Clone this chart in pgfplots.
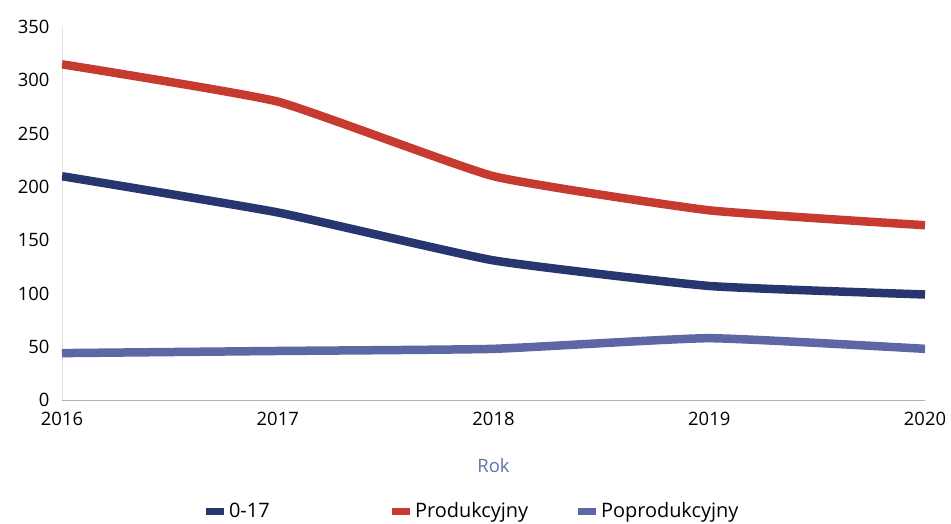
\documentclass[border=0pt]{standalone}
\usepackage{pgfplots}
\pgfplotsset{compat=1.18}
\usepackage{fontspec}
\setmainfont{Open Sans}
\definecolor{cnavy}{HTML}{27366F}
\definecolor{cred}{HTML}{C63A2F}
\definecolor{clav}{HTML}{5C67A3}
\definecolor{crok}{HTML}{6373A6}
\begin{document}
\begin{tikzpicture}
\path (-62bp,-124bp) rectangle (889bp,400bp);
\begin{axis}[
  scale only axis,
  width=863bp, height=373bp,
  at={(0,0)}, anchor=south west,
  xmin=2016, xmax=2020, ymin=0, ymax=350,
  xtick={2016,2017,2018,2019,2020},
  ytick={0,50,...,350},
  xticklabel style={/pgf/number format/1000 sep={}, yshift=-9bp},
  yticklabel style={xshift=-9bp},
  /pgf/number format/assume math mode=true,
  tick style={draw=none},
  axis x line*=bottom, axis y line*=left,
  x axis line style={draw=gray!60, line width=1pt, -},
  y axis line style={draw=gray!25, line width=0.8pt, -},
  font=\fontsize{18.5}{20}\selectfont,
  xlabel={Rok},
  xlabel style={at={(axis description cs:0.5,-0.177)}, anchor=center, text=crok},
  legend columns=3,
  legend style={at={(axis description cs:0.4765,-0.2976)}, anchor=center, draw=none, inner sep=0pt,
    font=\fontsize{20}{22}\selectfont,
    /tikz/every odd column/.append style={column sep=3bp}},
  legend image code/.code={\path[fill, draw=none, line width=0pt] (0bp,-3.5bp) rectangle (18bp,3.5bp);},
  every axis plot/.append style={line width=8.5bp, line join=round, smooth, tension=0.25},
]
\addplot[color=cnavy] coordinates {(2016,210) (2017,176) (2018,131) (2019,107) (2020,99)};
\addplot[color=cred] coordinates {(2016,315) (2017,280) (2018,210) (2019,178) (2020,164)};
\addplot[color=clav] coordinates {(2016,44) (2017,46) (2018,48) (2019,58) (2020,48)};
\legend{\makebox[161bp][l]{0-17},\makebox[161bp][l]{Produkcyjny},Poprodukcyjny}
\end{axis}
\end{tikzpicture}
\end{document}
